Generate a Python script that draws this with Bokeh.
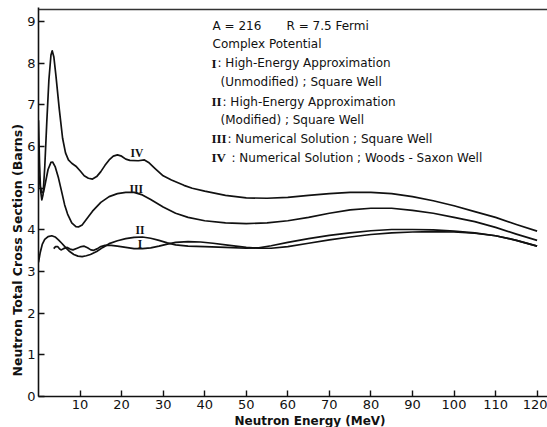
import math
from bokeh.plotting import figure
from bokeh.models import FixedTicker, Label, Span, Range1d, Title
from bokeh.embed import file_html
from bokeh.resources import INLINE

# ---- data ----
e_iv = [0.0, 0.25, 0.5, 0.8, 1.1, 1.5, 2.0, 2.5, 3.0, 3.3, 3.7, 4.2, 5.0, 5.8, 6.5, 7.2, 8.0, 9.0,
        10.0, 11.0, 12.0, 13.0, 14.0, 15.0, 16.0, 17.0, 18.0, 19.0, 20.0, 21.0, 22.0, 24.0, 25.5,
        26.5, 28.0, 30.0, 32.0, 35.0, 37.0, 40.0, 45.0, 50.0, 55.0, 60.0, 65.0, 70.0, 75.0, 80.0,
        85.0, 90.0, 95.0, 100.0, 105.0, 110.0, 115.0, 120.0]
s_iv = [6.63, 5.6, 4.95, 4.72, 4.85, 5.5, 6.6, 7.6, 8.2, 8.3, 8.15, 7.7, 6.9, 6.2, 5.85, 5.68, 5.6, 5.53,
        5.42, 5.3, 5.24, 5.22, 5.28, 5.4, 5.55, 5.68, 5.77, 5.8, 5.77, 5.7, 5.67, 5.66, 5.68,
        5.62, 5.48, 5.3, 5.2, 5.07, 5.0, 4.93, 4.83, 4.77, 4.76, 4.78, 4.83, 4.87, 4.9, 4.9,
        4.87, 4.8, 4.7, 4.58, 4.44, 4.3, 4.13, 3.97]

e_iii = [0.0, 0.4, 0.8, 1.2, 1.7, 2.3, 3.0, 3.4, 4.0, 4.8, 5.5, 6.3, 7.0, 8.0, 9.0, 9.6, 10.5, 11.5,
         13.0, 15.0, 17.0, 19.0, 21.0, 23.0, 25.0, 27.0, 30.0, 33.0, 36.0, 40.0, 45.0, 50.0, 55.0,
         60.0, 65.0, 70.0, 75.0, 80.0, 85.0, 90.0, 95.0, 100.0, 105.0, 110.0, 115.0, 120.0]
s_iii = [5.4, 5.05, 4.9, 4.9, 5.15, 5.45, 5.62, 5.63, 5.52, 5.25, 4.95, 4.6, 4.38, 4.17, 4.08, 4.07, 4.12, 4.25,
         4.45, 4.66, 4.8, 4.87, 4.9, 4.9, 4.84, 4.73, 4.55, 4.4, 4.3, 4.22, 4.17, 4.15, 4.17,
         4.22, 4.3, 4.4, 4.48, 4.52, 4.52, 4.47, 4.4, 4.3, 4.2, 4.06, 3.9, 3.75]

e_ii = [0.0, 0.4, 0.9, 1.5, 2.3, 3.2, 4.0, 4.8, 5.6, 6.5, 7.5, 8.5, 9.5, 10.5, 11.5, 12.5, 14.0, 15.5,
        17.0, 19.0, 21.0, 23.0, 25.0, 27.0, 29.0, 31.0, 33.0, 36.0, 40.0, 45.0, 50.0, 53.0, 56.0,
        60.0, 65.0, 70.0, 75.0, 80.0, 85.0, 90.0, 95.0, 100.0, 105.0, 110.0, 115.0, 120.0]
s_ii = [3.22, 3.45, 3.65, 3.77, 3.84, 3.86, 3.83, 3.76, 3.68, 3.58, 3.48, 3.41, 3.37, 3.36, 3.38, 3.41, 3.48, 3.58,
        3.67, 3.74, 3.79, 3.82, 3.83, 3.8, 3.75, 3.69, 3.64, 3.61, 3.6, 3.58, 3.56, 3.57, 3.62,
        3.7, 3.79, 3.87, 3.93, 3.98, 4.01, 4.01, 4.0, 3.97, 3.93, 3.86, 3.75, 3.61]

e_i = [3.66, 4.1, 4.6, 5.1, 5.5, 6.0, 6.9, 7.6, 8.3, 9.3, 10.3, 11.0, 11.8, 12.6, 13.3, 14.2, 15.0, 16.0,
       17.5, 19.0, 21.0, 23.0, 25.0, 27.0, 29.0, 31.0, 33.0, 36.0, 39.0, 42.0, 46.0, 50.0, 53.0, 56.0,
       60.0, 65.0, 70.0, 75.0, 80.0, 85.0, 90.0, 95.0, 100.0, 105.0, 110.0, 115.0, 120.0]
s_i = [3.55, 3.6, 3.6, 3.54, 3.52, 3.55, 3.58, 3.54, 3.52, 3.56, 3.6, 3.61, 3.57, 3.52, 3.51, 3.55, 3.6, 3.63,
       3.63, 3.61, 3.58, 3.55, 3.55, 3.57, 3.61, 3.66, 3.7, 3.72, 3.71, 3.68, 3.63, 3.58, 3.56, 3.56,
       3.6, 3.68, 3.76, 3.83, 3.89, 3.93, 3.95, 3.96, 3.95, 3.92, 3.86, 3.75, 3.61]

x_ticks = [10, 20, 30, 40, 50, 60, 70, 80, 90, 100, 110, 120]
y_ticks = [0, 1, 2, 3, 4, 5, 6, 7, 8, 9]

curve_labels = ["IV", "III", "II", "I"]
curve_label_x = [23.7, 23.5, 24.4, 24.4]
curve_label_y = [5.84, 4.98, 3.99, 3.65]

INK = "#111111"
SANS = "DejaVu Sans"
SERIF = "Liberation Serif"

p = figure(width=547, height=427, output_backend="svg", toolbar_location=None,
           x_range=Range1d(0, 122.5), y_range=Range1d(0, 9.34),
           min_border_left=38, min_border_right=0, min_border_top=7, min_border_bottom=31)
p.outline_line_color = None
p.grid.visible = False
p.background_fill_color = "white"
p.border_fill_color = "white"

for ax, tk in ((p.xaxis, x_ticks), (p.yaxis, y_ticks)):
    ax.ticker = FixedTicker(ticks=tk)
    ax.major_tick_in = 6
    ax.major_tick_out = 0
    ax.minor_tick_line_color = None
    ax.axis_line_width = 1.6
    ax.axis_line_color = INK
    ax.major_tick_line_color = INK
    ax.major_tick_line_width = 1.4
    ax.major_label_text_font = SANS
    ax.major_label_text_font_size = "13px"
    ax.major_label_text_color = INK
    ax.major_label_standoff = 3

p.add_layout(Title(text="Neutron  Energy  (MeV)", align="left", offset=196, standoff=0,
                   text_font=SANS, text_font_style="bold", text_font_size="12px",
                   text_color=INK), "below")
p.add_layout(Title(text="Neutron  Total  Cross  Section  (Barns)", align="left", offset=20,
                   standoff=0, text_font=SANS, text_font_style="bold", text_font_size="12.5px",
                   text_color=INK), "left")

p.add_layout(Span(location=9.29, dimension="width", line_color="#333333", line_width=1.5))

for e, s in ((e_iv, s_iv), (e_iii, s_iii), (e_ii, s_ii), (e_i, s_i)):
    p.line(e, s, line_color=INK, line_width=1.7, line_join="round")

for t, x, y in zip(curve_labels, curve_label_x, curve_label_y):
    p.add_layout(Label(x=x, y=y, text=t, text_font=SERIF, text_font_style="bold",
                       text_font_size="11.5px", text_align="center", text_baseline="middle",
                       text_color=INK))

def px2x(px):
    return (px - 38) / 4.155

def py2y(py):
    return (396 - py) / 41.65

def txt(px, py, s, font=SANS, style="normal", size="12px"):
    p.add_layout(Label(x=px2x(px), y=py2y(py), text=s, text_font=font, text_font_style=style,
                       text_font_size=size, text_align="left", text_baseline="middle",
                       text_color=INK))

txt(212, 25, "A = 216")
txt(286, 25, "R = 7.5  Fermi")
txt(212, 43.5, "Complex  Potential")
txt(211, 62.7, "I", SERIF, "bold", "13px")
txt(217, 62.7, ":  High-Energy  Approximation")
txt(220, 81.7, "(Unmodified) ;  Square  Well")
txt(211, 101, "II", SERIF, "bold", "13px")
txt(222, 101, ":  High-Energy  Approximation")
txt(220, 119.5, "(Modified) ;  Square  Well")
txt(211, 138.3, "III", SERIF, "bold", "13px")
txt(227, 138.3, ":  Numerical  Solution ;  Square  Well")
txt(211, 157.3, "IV", SERIF, "bold", "13px")
txt(231, 157.3, ":  Numerical  Solution ;  Woods - Saxon  Well")

open("out.html", "w").write(file_html(p, INLINE))
